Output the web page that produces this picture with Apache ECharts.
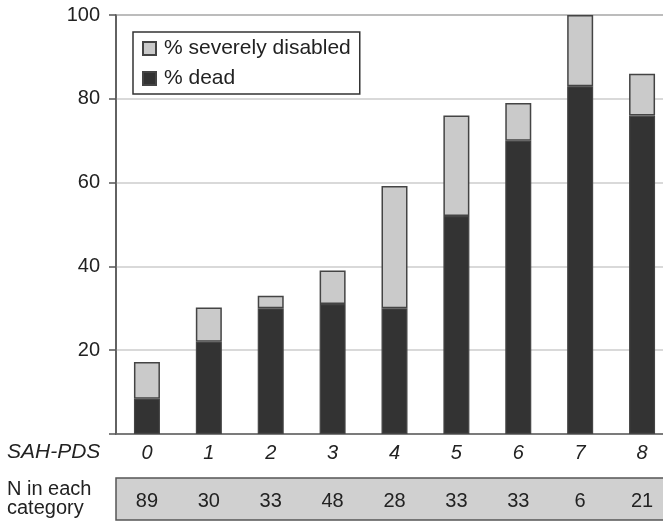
<!DOCTYPE html>
<html><head><meta charset="utf-8">
<script src="https://cdn.jsdelivr.net/npm/echarts@6/dist/echarts.min.js"></script>
<style>html,body{margin:0;padding:0;background:#fff}#c{width:663px;height:522px}</style>
</head><body><div id="c"></div>
<script>
const categories = ['0','1','2','3','4','5','6','7','8'];
const pctDead = [8.4, 22, 30, 31, 30, 52, 70, 83, 76];
const pctTotal = [17.2, 30.2, 33, 39, 59.2, 76, 79, 100, 86];
const pctDisabled = pctTotal.map((t, i) => +(t - pctDead[i]).toFixed(1));
const nCounts = ['89','30','33','48','28','33','33','6','21'];
const yTicks = [20, 40, 60, 80, 100];

const FONT = 'Liberation Sans, Arial, sans-serif';
const chart = echarts.init(document.getElementById('c'));
chart.setOption({
  animation: false,
  backgroundColor: '#fff',
  textStyle: { fontFamily: FONT },
  grid: [
    { left: 116, top: 15, height: 419, width: 557, outerBoundsMode: 'none', containLabel: false, show: true, borderColor: '#666', borderWidth: 1.5, backgroundColor: 'transparent' },
    { left: 116, top: 478, height: 42, width: 557, outerBoundsMode: 'none', containLabel: false, show: true, borderColor: '#555', borderWidth: 1.5, backgroundColor: '#d0d0d0' }
  ],
  legend: {
    data: ['% severely disabled', '% dead'],
    orient: 'vertical', left: 133, top: 32,
    borderColor: '#333', borderWidth: 1.5, borderRadius: 0,
    padding: [6, 9, 5, 9], itemGap: 9, itemWidth: 13, itemHeight: 13,
    icon: 'rect',
    textStyle: { fontSize: 21, color: '#222', fontFamily: FONT, padding: [0, 0, 0, 3] }
  },
  xAxis: [
    { type: 'category', gridIndex: 0, data: categories,
      axisLine: { lineStyle: { color: '#666', width: 1.5 } }, axisTick: { show: false },
      axisLabel: { fontSize: 20, fontStyle: 'italic', color: '#222', margin: 9, fontFamily: FONT } },
    { type: 'category', gridIndex: 1, data: nCounts, position: 'top',
      axisLine: { show: false }, axisTick: { show: false },
      axisLabel: { inside: true, fontSize: 20, color: '#222', margin: 13, fontFamily: FONT } }
  ],
  yAxis: [
    { type: 'value', gridIndex: 0, min: 0, max: 100, interval: 20,
      axisLine: { show: true, lineStyle: { color: '#555', width: 1.5 } },
      axisTick: { show: true, length: 7, lineStyle: { color: '#555', width: 1.5 } },
      axisLabel: { fontSize: 20, color: '#222', margin: 16, fontFamily: FONT,
        formatter: v => yTicks.includes(v) ? String(v) : '' },
      splitLine: { show: true, lineStyle: { color: '#ccc', width: 1.5 } } },
    { type: 'value', gridIndex: 1, show: false }
  ],
  series: [
    { name: '% dead', type: 'bar', stack: 's', xAxisIndex: 0, yAxisIndex: 0, barWidth: 26,
      data: pctDead, itemStyle: { color: '#333333', borderColor: '#444', borderWidth: 1.2 } },
    { name: '% severely disabled', type: 'bar', stack: 's', xAxisIndex: 0, yAxisIndex: 0, barWidth: 26,
      data: pctDisabled, itemStyle: { color: '#cacaca', borderColor: '#444', borderWidth: 1.5 } }
  ],
  graphic: [
    { type: 'text', left: 7, top: 442, style: { text: 'SAH-PDS', fontSize: 21, fontStyle: 'italic', fill: '#222', fontFamily: FONT } },
    { type: 'text', left: 7, top: 479, style: { text: 'N in each\ncategory', fontSize: 20, lineHeight: 19, fill: '#222', fontFamily: FONT } }
  ]
});
</script></body></html>
